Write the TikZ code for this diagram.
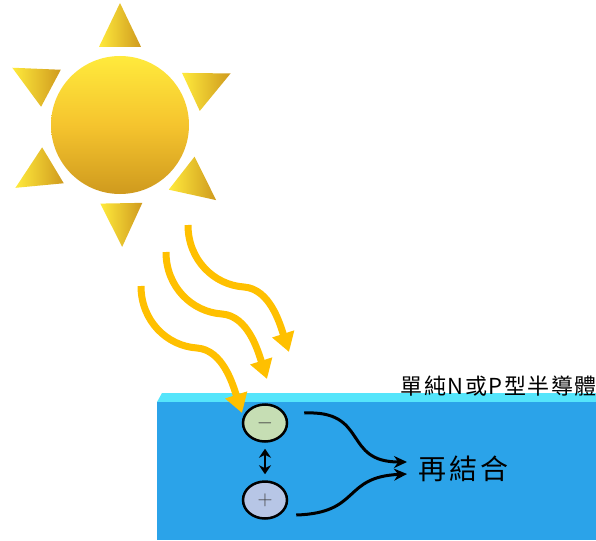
\documentclass[tikz,border=0pt]{standalone}
\usepackage{fontspec}
\newfontfamily\cjk[LetterSpace=7]{Noto Sans CJK TC}
\newfontfamily\cjkwide[LetterSpace=12]{Noto Sans CJK TC}
\usepackage{tikz}
\usetikzlibrary{arrows.meta, shapes.geometric}
\definecolor{sunHigh}{HTML}{FFEA3C}
\definecolor{sunMid}{HTML}{F5C42E}
\definecolor{sunLow}{HTML}{CF9A1E}
\definecolor{colorRay}{HTML}{FFC000}
\definecolor{slabTop}{HTML}{55E5FB}
\definecolor{slabFront}{HTML}{2BA3E9}
\definecolor{colorElectron}{HTML}{C6DEB4}
\definecolor{colorHole}{HTML}{B7C6E6}
\tikzset{
  ray/.style={colorRay, line width=7pt, -{Triangle[length=19pt,width=22pt]}},
  carrier/.style={ellipse, draw, line width=2.5pt, minimum width=44pt, minimum height=37pt, inner sep=0pt, text=black!75, font=\fontsize{22}{22}\selectfont},
  bond/.style={line width=3pt, -{Stealth[length=13pt,width=12pt]}},
}

\begin{document}
\begin{tikzpicture}[x=1pt, y=-1pt]
\useasboundingbox (0,0) rectangle (596,540);
% slab of semiconductor
\fill[slabTop] (157,402) -- (162,393) -- (596,393) -- (596,402) -- cycle;
\fill[slabFront] (157,402) rectangle (596,540);
\node[anchor=east, inner sep=0pt, font=\cjk\fontsize{22}{22}\selectfont] (slab) at (597,386) {單純N或P型半導體};

% sun
\node[circle, minimum size=138pt, inner sep=0pt, top color=sunHigh, bottom color=sunLow, middle color=sunMid] (sun) at (120,125) {};
\foreach \a in {-90,-25,38,89,149,-152}
  \shade[shift={(sun.center)}, left color=sunHigh, right color=sunLow] (\a:122) -- (\a+15:81) -- (\a-15:81) -- cycle;

% light
\coordinate (ray1) at (141,286);
\coordinate (ray2) at (166,252);
\coordinate (ray3) at (188,225);
\foreach \r in {ray1,ray2,ray3}
  \draw[ray] (\r) .. controls +(0,35) and +(-30,-2) .. ++(56,62) .. controls +(26,2) and +(-9,-28) .. ++(45,65);

% carriers
\node[carrier, fill=colorElectron] (minus) at (265,423) {$-$};
\node[carrier, fill=colorHole] (plus) at (265,500) {$+$};
\draw[{Stealth[length=9pt,width=12pt]}-{Stealth[length=9pt,width=12pt]}, line width=2.5pt, shorten <=6pt, shorten >=6pt] (minus) -- (plus);

\node[anchor=west, inner sep=0pt, font=\cjkwide\fontsize{28}{28}\selectfont] (recomb) at (418,469) {再結合};
\draw[bond] ([shift={(16,-10)}]minus.east) .. controls +(65,-3) and +(-65,0) .. ([shift={(-11,-7)}]recomb.west);
\draw[bond] ([shift={(8,15)}]plus.east) .. controls +(65,-2) and +(-65,3) .. ([shift={(-11,5)}]recomb.west);
\end{tikzpicture}
\end{document}
